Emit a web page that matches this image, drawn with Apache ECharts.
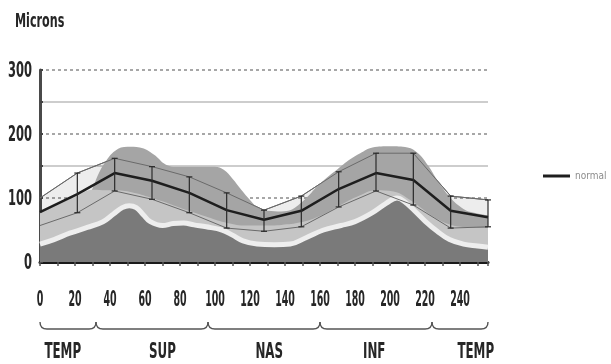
<!DOCTYPE html>
<html>
<head>
<meta charset="utf-8">
<script src="https://cdn.jsdelivr.net/npm/echarts@6/dist/echarts.min.js"></script>
<style>
  html, body { margin: 0; padding: 0; background: #fff; }
  #chart { width: 611px; height: 364px; }
</style>
</head>
<body>
<div id="chart"></div>
<script>
// Normative profile sampled at 13 positions around the scan circle (0–256)
const samplePositions = [0, 21.33, 42.67, 64, 85.33, 106.67, 128, 149.33, 170.67, 192, 213.33, 234.67, 256];
const normalMean  = [78, 106, 139, 127, 108, 81, 66, 80, 114, 139, 128, 80, 70];
const normalUpper = [100, 139, 162, 149, 133, 108, 81, 103, 141, 170, 170, 103, 97];
const normalLower = [57, 77, 111, 98, 77, 53, 48, 55, 86, 111, 89, 53, 55];

// Upper edge of the normal range band
const bandTop = [[0, 55], [10, 65], [20, 80], [26, 95], [30, 115], [33, 135], [37, 155], [43, 174], [50, 180], [57, 179],
  [65, 168], [72, 152], [78, 149], [89, 149], [100, 149], [105, 144], [110, 130], [115, 113], [120, 97],
  [124, 86], [130, 80], [138, 79], [144, 82], [149, 92], [154, 105], [158, 117], [164, 132], [170, 145],
  [177, 160], [183, 170], [190, 179], [200, 181], [210, 179], [216, 170], [222, 150], [227, 128],
  [234, 102], [242, 83], [248, 77], [256, 73]];

// Upper edge of the borderline band
const bandLow = [[0, 77], [10, 90], [20, 102], [30, 113], [38, 112], [43, 112], [54, 108], [64, 100], [75, 90], [85, 80],
  [96, 70], [107, 61], [118, 57], [128, 57], [138, 58], [149, 62], [160, 72], [171, 88], [182, 103],
  [192, 112], [202, 110], [213, 94], [224, 72], [235, 58], [246, 54], [256, 53]];

// Measured thickness profile
const thickness = [[0, 28], [8, 35], [17, 45], [27, 54], [36, 63], [42, 75], [47, 85], [51, 88], [55, 85],
  [59, 74], [63, 63], [70, 57], [76, 60], [82, 61], [88, 58], [95, 55], [104, 50], [110, 42], [116, 33],
  [124, 28], [134, 27], [143, 28], [152, 38], [162, 50], [172, 57], [180, 63], [190, 77], [198, 92],
  [204, 100], [208, 95], [214, 80], [220, 64], [227, 48], [234, 35], [242, 28], [250, 25], [256, 23]];

// Axis labels and quadrant sections
const xTickLabels = [0, 20, 40, 60, 80, 100, 120, 140, 160, 180, 200, 220, 240];
const yTickLabels = [0, 100, 200, 300];
const sectionBounds = [0, 32, 96, 160, 224, 256];
const sectionNames = ['TEMP', 'SUP', 'NAS', 'INF', 'TEMP'];
const sectionLabelAt = [13, 70, 131, 191, 249];

const FONT = '"Liberation Sans Narrow", "DejaVu Sans Condensed", sans-serif';

const chart = echarts.init(document.getElementById('chart'), null, { renderer: 'canvas' });

const pairs = (xs, ys) => xs.map((x, i) => [x, ys[i]]);
const errorData = samplePositions.slice(1).map((x, i) => [x, normalUpper[i + 1], normalLower[i + 1]]);

const option = {
  animation: false,
  backgroundColor: '#ffffff',
  grid: { left: 40, right: 123, top: 70, bottom: 102, containLabel: false },
  legend: {
    data: [{ name: 'normal', icon: 'rect' }],
    left: 538, top: 166,
    itemWidth: 27, itemHeight: 3,
    textStyle: { fontSize: 10, color: '#8c8c8c', fontFamily: FONT }
  },
  xAxis: {
    type: 'value', min: 0, max: 256, interval: 10,
    axisLine: { show: true, lineStyle: { color: '#1a1a1a', width: 3 } },
    axisTick: { show: true, length: 4, lineStyle: { color: '#555', width: 1.5 } },
    axisLabel: { show: false },
    splitLine: { show: false }
  },
  yAxis: [
    {
      type: 'value', min: 0, max: 300, interval: 100,
      axisLine: { show: true, lineStyle: { color: '#4a4a4a', width: 3 } },
      axisTick: { show: false },
      axisLabel: { show: false },
      splitLine: { show: true, lineStyle: { color: '#8a8a8a', width: 1.5, type: [3, 3] } }
    },
    {
      type: 'value', min: 0, max: 300, interval: 50, position: 'left',
      axisLine: { show: false },
      axisTick: { show: true, inside: true, length: 3, lineStyle: { color: '#444', width: 2 } },
      axisLabel: { show: false },
      splitLine: { show: true, lineStyle: { color: ['rgba(0,0,0,0)', '#cdcdcd'], width: 2 } }
    }
  ],
  series: [
    {
      // faint shading below the upper normative limit
      type: 'line', data: pairs(samplePositions, normalUpper), showSymbol: false, silent: true, z: 1,
      lineStyle: { width: 1, color: '#6a6a6a' }, areaStyle: { color: 'rgba(0,0,0,0.07)', opacity: 1 }
    },
    {
      type: 'line', data: bandTop, smooth: 0.4, showSymbol: false, silent: true, z: 2,
      lineStyle: { width: 0 }, areaStyle: { color: '#a5a5a5', opacity: 1 }
    },
    {
      type: 'line', data: bandLow, smooth: 0.4, showSymbol: false, silent: true, z: 2,
      lineStyle: { width: 0 }, areaStyle: { color: '#c5c5c5', opacity: 1 }
    },
    {
      type: 'line', data: thickness, smooth: 0.4, showSymbol: false, silent: true, z: 2,
      lineStyle: { width: 5, color: '#eeeeee' }, areaStyle: { color: '#7a7a7a', opacity: 1 }
    },
    {
      type: 'line', data: pairs(samplePositions, normalUpper), showSymbol: false, silent: true, z: 3,
      lineStyle: { width: 1, color: '#6a6a6a' }
    },
    {
      type: 'line', data: pairs(samplePositions, normalLower), showSymbol: false, silent: true, z: 3,
      lineStyle: { width: 1, color: '#6a6a6a' }
    },
    {
      name: 'normal', type: 'line', data: pairs(samplePositions, normalMean), showSymbol: false, z: 4,
      itemStyle: { color: '#1e1e1e' },
      lineStyle: { width: 2.5, color: '#1e1e1e' }
    },
    {
      type: 'custom', data: errorData, encode: { x: 0, y: [1, 2] }, silent: true, clip: false, z: 6,
      renderItem: function (params, api) {
        const x = api.value(0);
        const top = api.coord([x, api.value(1)]);
        const bot = api.coord([x, api.value(2)]);
        const cap = 3;
        const style = { stroke: '#2a2a2a', lineWidth: 1.2 };
        return {
          type: 'group',
          children: [
            { type: 'line', shape: { x1: top[0], y1: top[1], x2: bot[0], y2: bot[1] }, style: style },
            { type: 'line', shape: { x1: top[0] - cap, y1: top[1], x2: top[0] + cap, y2: top[1] }, style: style },
            { type: 'line', shape: { x1: bot[0] - cap, y1: bot[1], x2: bot[0] + cap, y2: bot[1] }, style: style }
          ]
        };
      }
    }
  ]
};

chart.setOption(option);

// Condensed text labels and section braces positioned through the axis scales
const px = v => chart.convertToPixel({ xAxisIndex: 0 }, v);
const py = v => chart.convertToPixel({ yAxisIndex: 0 }, v);
const axisY = py(0);
const axisX = px(0);
const graphics = [];

const textEl = (str, x, y, size, sx, align) => ({
  type: 'text', x: x, y: y, scaleX: sx, silent: true,
  style: {
    text: str, fill: '#262626', font: 'bold ' + size + 'px ' + FONT,
    textAlign: align || 'center', textVerticalAlign: 'middle'
  }
});

graphics.push(textEl('Microns', 15, 22, 20, 0.62, 'left'));

xTickLabels.forEach(v => graphics.push(textEl(String(v), px(v), axisY + 39, 21, 0.5)));
yTickLabels.forEach(v => graphics.push(textEl(String(v), axisX - 8, py(v) + 1, 22, 0.58, 'right')));

const braceTop = axisY + 60, braceBot = axisY + 67;
const braceStyle = { stroke: '#555', lineWidth: 1.4, fill: null };
for (let i = 0; i < sectionNames.length; i++) {
  const a = px(sectionBounds[i]), b = px(sectionBounds[i + 1]);
  graphics.push({
    type: 'bezierCurve', silent: true,
    shape: { x1: a, y1: braceTop, cpx1: a, cpy1: braceBot, x2: a + 7, y2: braceBot },
    style: braceStyle
  });
  graphics.push({
    type: 'line', silent: true,
    shape: { x1: a + 7, y1: braceBot, x2: b - 7, y2: braceBot },
    style: braceStyle
  });
  graphics.push({
    type: 'bezierCurve', silent: true,
    shape: { x1: b - 7, y1: braceBot, cpx1: b, cpy1: braceBot, x2: b, y2: braceTop },
    style: braceStyle
  });
  graphics.push(textEl(sectionNames[i], px(sectionLabelAt[i]), axisY + 90, 22, 0.6));
}

chart.setOption({ graphic: { elements: graphics } });
</script>
</body>
</html>
